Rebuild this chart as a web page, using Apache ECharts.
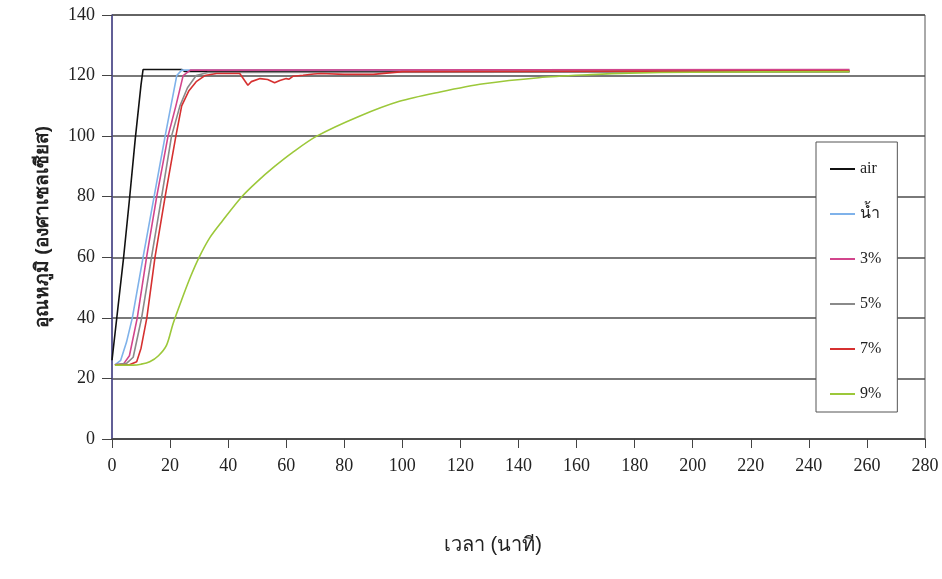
<!DOCTYPE html>
<html>
<head>
<meta charset="utf-8">
<script src="https://cdn.jsdelivr.net/npm/echarts@6/dist/echarts.min.js"></script>
<style>
html,body{margin:0;padding:0;background:#fff;}
#c{width:942px;height:579px;}
</style>
</head>
<body>
<div id="c"></div>
<script>
// ---- data (time in minutes, temperature in °C) ----
const seriesNames = ['air', 'น้ำ', '3%', '5%', '7%', '9%'];

const airTime = [0, 0.5, 2, 4, 6, 8, 10, 10.7, 24, 25, 254];
const airTemp = [26, 26, 43, 60, 79, 99, 117, 122, 122, 121.4, 121.4];

const waterTime = [1, 3, 5, 7, 10.7, 14.5, 18.3, 22.3, 24, 254];
const waterTemp = [24.5, 26, 32, 40, 60, 80, 100, 120, 121.8, 121.8];

const p3Time = [1, 4, 6, 8.7, 11.9, 15.4, 19.3, 22, 24.5, 27, 254];
const p3Temp = [24.5, 24.8, 27.5, 40, 60, 80, 100, 110, 120, 121.8, 122];

const p5Time = [1, 5, 7.3, 10.2, 13.6, 17.1, 20.5, 23.4, 26, 29, 33, 254];
const p5Temp = [24.5, 25, 27, 40, 60, 80, 100, 110, 116, 120, 121, 121.2];

const p7Time = [1, 6, 8.5, 10, 12, 14.8, 18.3, 22, 24, 26.5, 29, 32, 36, 44, 46.8, 48, 51, 53.6, 56, 57.8, 60, 61, 62.4, 65.8, 69.5, 72, 80, 90, 100, 254];
const p7Temp = [24.5, 24.5, 25.5, 30, 40, 60, 80, 100, 110, 115, 118, 120, 120.7, 120.7, 116.8, 118, 119, 118.7, 117.6, 118.4, 119, 118.8, 119.8, 120.1, 120.5, 120.7, 120.4, 120.4, 121.3, 121.6];

const p9Time = [1, 7.3, 10, 13, 16, 18.8, 21, 24, 27, 30, 33.7, 38, 44.7, 50, 56, 62, 70.5, 85, 99, 113, 128, 147, 165, 178, 200, 254];
const p9Temp = [24.4, 24.4, 24.7, 25.5, 27.5, 31, 38, 46, 53.5, 60, 66.5, 72, 80, 85, 90, 94.5, 100, 106.5, 111.5, 114.6, 117.3, 119.3, 120.3, 120.8, 121.1, 121.3];

const xTicks = [0, 20, 40, 60, 80, 100, 120, 140, 160, 180, 200, 220, 240, 260, 280];
const yTicks = [0, 20, 40, 60, 80, 100, 120, 140];

const seriesTimes = [airTime, waterTime, p3Time, p5Time, p7Time, p9Time];
const seriesTemps = [airTemp, waterTemp, p3Temp, p5Temp, p7Temp, p9Temp];
const seriesColors = ['#111111', '#7fb2ea', '#d2458c', '#8a8a8a', '#d63030', '#9cc83a'];
const seriesSmooth = [false, false, false, false, false, 0.3];

const zip = (a, b) => a.map((v, i) => [v, b[i]]);

const chart = echarts.init(document.getElementById('c'));
chart.setOption({
  backgroundColor: '#ffffff',
  animation: false,
  grid: {left: 112, right: 17, top: 15, bottom: 140, show: true, borderColor: '#555', borderWidth: 1},
  xAxis: {
    type: 'value', min: xTicks[0], max: xTicks[xTicks.length - 1], interval: 20,
    axisLine: {show: true, lineStyle: {color: '#444', width: 1.5}},
    axisTick: {show: true, length: 9, lineStyle: {color: '#444'}},
    axisLabel: {margin: 18, fontFamily: 'Liberation Serif', fontSize: 18, color: '#222'},
    splitLine: {show: false}
  },
  yAxis: {
    type: 'value', min: yTicks[0], max: yTicks[yTicks.length - 1], interval: 20,
    name: 'อุณหภูมิ (องศาเซลเซียส)', nameLocation: 'middle', nameGap: 60, nameRotate: 90,
    nameTextStyle: {fontFamily: 'sans-serif', fontWeight: 'bold', fontSize: 19, color: '#222'},
    axisLine: {show: true, lineStyle: {color: '#4a4690', width: 1.5}},
    axisTick: {show: true, length: 10, lineStyle: {color: '#444'}},
    axisLabel: {margin: 17, fontFamily: 'Liberation Serif', fontSize: 18, color: '#222'},
    splitLine: {show: true, lineStyle: {color: '#4d4d4d', width: 1.6}}
  },
  legend: {
    orient: 'vertical', left: 816, top: 142,
    padding: [19, 16, 10, 14], itemGap: 29, itemWidth: 25, itemHeight: 14,
    borderColor: '#555', borderWidth: 1, backgroundColor: '#fff',
    icon: 'path://M0,0 L25,0 L25,2 L0,2 Z',
    textStyle: {fontFamily: 'Liberation Serif', fontSize: 16, color: '#222'},
    data: seriesNames
  },
  graphic: [{
    type: 'text', x: 493, y: 545,
    style: {text: 'เวลา (นาที)', fontFamily: 'sans-serif', fontSize: 20, fill: '#222',
            textAlign: 'center', textVerticalAlign: 'middle'}
  }],
  series: seriesNames.map((n, i) => ({
    name: n, type: 'line', showSymbol: false, symbol: 'none',
    smooth: seriesSmooth[i],
    data: zip(seriesTimes[i], seriesTemps[i]),
    lineStyle: {color: seriesColors[i], width: 1.6},
    itemStyle: {color: seriesColors[i]}
  }))
});
</script>
</body>
</html>
